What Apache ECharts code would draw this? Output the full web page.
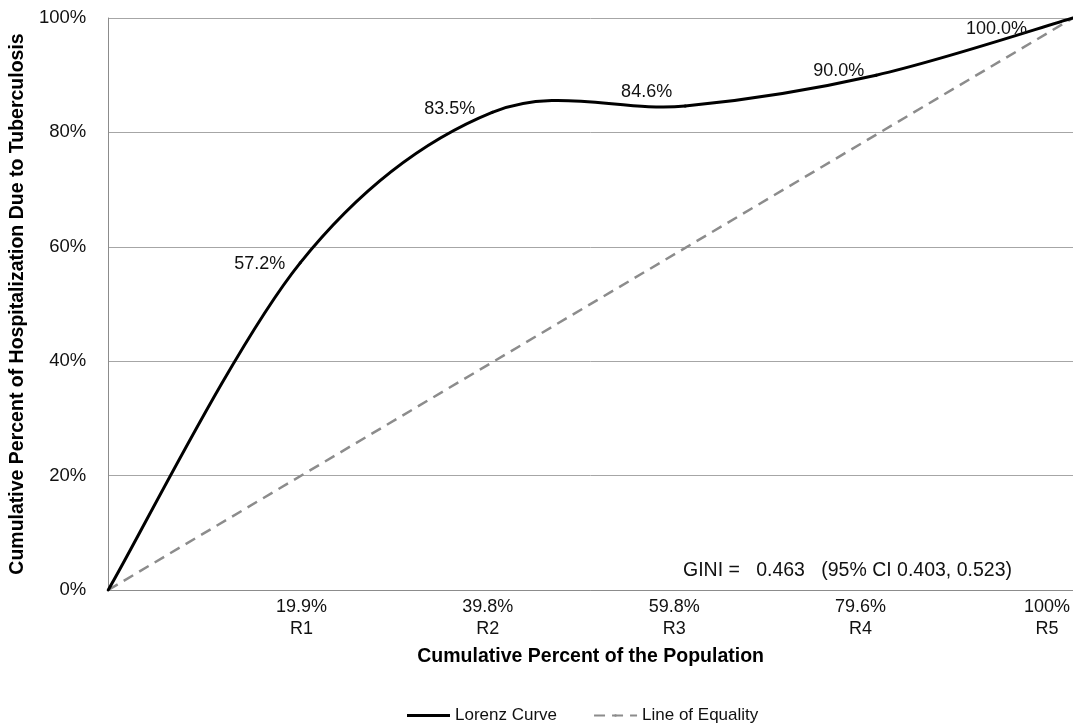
<!DOCTYPE html>
<html>
<head>
<meta charset="utf-8">
<script src="https://cdn.jsdelivr.net/npm/echarts@6/dist/echarts.min.js"></script>
<style>
  html, body { margin: 0; padding: 0; background: #fff; }
  #chart1 { width: 1073px; height: 728px; }
</style>
</head>
<body>
<div id="chart1"></div>
<script>
// cumulative population share (x) and hospitalization share (y)
const popX = [0, 19.9, 39.8, 59.8, 79.6, 100];
const lorenzY = [0, 57.2, 83.5, 84.6, 90.0, 100.0];
const equalityX = [0, 100];
const equalityY = [0, 100];

const popTicks = ['19.9%', '39.8%', '59.8%', '79.6%', '100%'];
const regionTicks = ['R1', 'R2', 'R3', 'R4', 'R5'];
const yTicks = [0, 20, 40, 60, 80, 100];

const giniText = 'GINI =   0.463   (95% CI 0.403, 0.523)';

// where each data label sits relative to its point (dx, dy), label right-aligned
const labelShift = [null, [-15, 1], [-17, -3], [-13, -14], [-12, -4], [-46, 11]];

const FONT = '"Liberation Sans", Arial, sans-serif';

// excel-like smoothed segment between point i-1 and i (catmull-rom -> bezier)
const renderLorenz = (params, api) => {
  const i = params.dataIndex;
  const n = popX.length;
  if (i === 0) return { type: 'group', children: [] };
  const pt = (j) => {
    const k = Math.max(0, Math.min(n - 1, j));
    return api.coord([popX[k], lorenzY[k]]);
  };
  const p0 = pt(i - 2), p1 = pt(i - 1), p2 = api.coord([api.value(0), api.value(1)]), p3 = pt(i + 1);
  const c1 = [p1[0] + (p2[0] - p0[0]) / 6, p1[1] + (p2[1] - p0[1]) / 6];
  const c2 = [p2[0] - (p3[0] - p1[0]) / 6, p2[1] - (p3[1] - p1[1]) / 6];
  const shift = labelShift[i];
  return {
    type: 'group',
    children: [{
      type: 'bezierCurve',
      shape: {
        x1: p1[0], y1: p1[1], x2: p2[0], y2: p2[1],
        cpx1: c1[0], cpy1: c1[1], cpx2: c2[0], cpy2: c2[1]
      },
      style: { stroke: '#000', lineWidth: 3, fill: null, lineCap: 'round' }
    }, {
      type: 'text',
      x: p2[0] + shift[0],
      y: p2[1] + shift[1],
      style: {
        text: api.value(1).toFixed(1) + '%',
        font: '18px ' + FONT,
        fill: '#111',
        align: 'right',
        verticalAlign: 'middle'
      },
      z2: 10
    }]
  };
};

const getOptionChart1 = () => {
  return {
    backgroundColor: '#fff',
    textStyle: { fontFamily: FONT },
    animation: false,
    grid: [
      { left: 107, width: 974, top: 18, bottom: 138 },
      { left: 115, width: 935, top: 18, bottom: 138 }
    ],
    xAxis: [{
      type: 'value',
      gridIndex: 0,
      min: 0,
      max: 100,
      axisLine: { show: true, lineStyle: { color: '#8c8c8c', width: 1 } },
      axisTick: { show: false },
      axisLabel: { show: false },
      splitLine: { show: false },
      name: 'Cumulative Percent of the Population',
      nameLocation: 'middle',
      nameGap: 57,
      nameTextStyle: { fontFamily: FONT, fontWeight: 'bold', fontSize: 19.5, color: '#000' }
    }, {
      type: 'category',
      gridIndex: 1,
      boundaryGap: false,
      data: [''].concat(popTicks.map((p, i) => p + '\n' + regionTicks[i])),
      axisLine: { show: false },
      axisTick: { show: false },
      axisLabel: {
        interval: 0,
        margin: 6,
        fontFamily: FONT,
        fontSize: 18,
        lineHeight: 22,
        color: '#111'
      }
    }],
    yAxis: [{
      type: 'value',
      gridIndex: 0,
      min: yTicks[0],
      max: yTicks[yTicks.length - 1],
      interval: 20,
      axisLine: { show: true, lineStyle: { color: '#8c8c8c', width: 1 } },
      axisTick: { show: false },
      axisLabel: {
        formatter: '{value}%',
        fontFamily: FONT,
        fontSize: 18.5,
        color: '#111',
        margin: 22
      },
      splitLine: { show: true, lineStyle: { color: '#a6a6a6', width: 1 } },
      name: 'Cumulative Percent of Hospitalization Due to Tuberculosis',
      nameLocation: 'middle',
      nameGap: 80,
      nameTextStyle: { fontFamily: FONT, fontWeight: 'bold', fontSize: 19.5, color: '#000' }
    }, {
      type: 'value',
      gridIndex: 1,
      show: false
    }],
    legend: {
      top: 702,
      left: 402,
      itemWidth: 43,
      itemHeight: 3,
      itemGap: 36,
      textStyle: { fontFamily: FONT, fontSize: 17, color: '#111' },
      data: [
        { name: 'Lorenz Curve', icon: 'rect' },
        { name: 'Line of Equality' }
      ]
    },
    graphic: [{
      type: 'text',
      left: 683,
      top: 561,
      style: {
        text: giniText,
        font: '19.5px ' + FONT,
        fill: '#111'
      }
    }],
    series: [{
      name: 'Line of Equality',
      type: 'line',
      xAxisIndex: 0,
      yAxisIndex: 0,
      data: equalityX.map((x, i) => [x, equalityY[i]]),
      showSymbol: false,
      symbol: 'none',
      lineStyle: { color: '#8c8c8c', width: 2.5, type: [11, 7] },
      itemStyle: { color: '#8c8c8c' },
      z: 2
    }, {
      name: 'Lorenz Curve',
      type: 'custom',
      xAxisIndex: 0,
      yAxisIndex: 0,
      data: popX.map((x, i) => [x, lorenzY[i]]),
      renderItem: renderLorenz,
      itemStyle: { color: '#000' },
      clip: false,
      z: 3
    }]
  };
};

const initChart = () => {
  const chart1 = echarts.init(document.getElementById('chart1'), null, { renderer: 'canvas' });
  chart1.setOption(getOptionChart1());
};

window.addEventListener('load', function() {
  initChart();
});
</script>
</body>
</html>
